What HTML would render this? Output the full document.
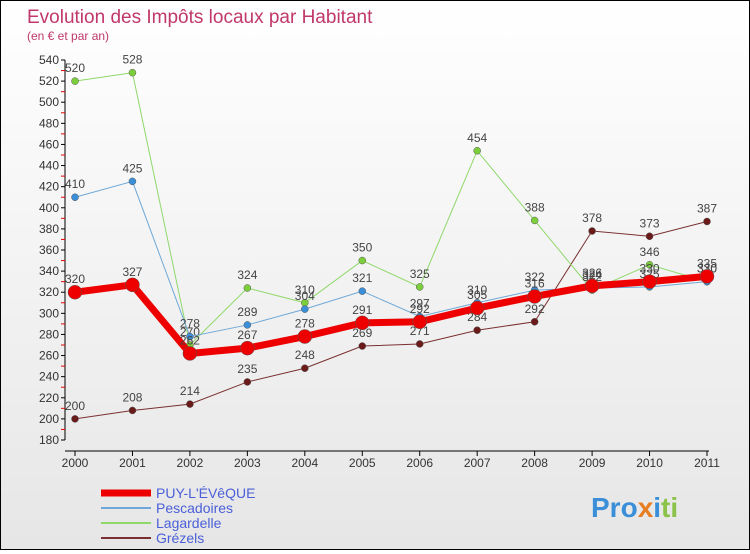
<!DOCTYPE html>
<html><head><meta charset="utf-8"><style>
body{margin:0;}
#c{width:748px;height:548px;border:1px solid #000;background:linear-gradient(#fff,#e6e6e6);position:relative;font-family:"Liberation Sans",sans-serif;}
</style></head><body>
<div id="c">
<svg id="s" width="748" height="548">
<text x="26" y="22" font-size="19" fill="#c0386a">Evolution des Impôts locaux par Habitant</text>
<text x="26" y="39" font-size="12" fill="#c0386a">(en € et par an)</text>
<g id="g"></g>
<text x="590" y="516" font-size="28" font-weight="bold" fill="#f39c12"><tspan fill="#3a8fd8">Pro</tspan><tspan fill="#e67e22">x</tspan><tspan fill="#3a8fd8">i</tspan><tspan fill="#8bc34a">ti</tspan></text>
</svg>
</div>
<script>
const years=["2000","2001","2002","2003","2004","2005","2006","2007","2008","2009","2010","2011"];
const puy=[320,327,262,267,278,291,292,305,316,326,330,335];
const pesc=[410,425,278,289,304,321,297,310,322,324,325,330];
const lag=[520,528,270,324,310,350,325,454,388,322,346,330];
const grez=[200,208,214,235,248,269,271,284,292,378,373,387];
const yTicks=[180,200,220,240,260,280,300,320,340,360,380,400,420,440,460,480,500,520,540];
const names=["PUY-L'ÉVêQUE","Pescadoires","Lagardelle","Grézels"];
const NS="http://www.w3.org/2000/svg";
const g=document.getElementById('g');
const X=i=>74+i*(632/11);
const Y=v=>59+(540-v)*380/360;
function el(t,a,p){const e=document.createElementNS(NS,t);for(const k in a)e.setAttribute(k,a[k]);(p||g).appendChild(e);return e;}
let ax=el('line',{x1:64,y1:Y(540),x2:64,y2:Y(180),stroke:'#000'});


let bx=el('line',{x1:64,y1:450,x2:708,y2:450,stroke:'#000'});


yTicks.forEach(v=>{
 el('line',{x1:60,x2:64,y1:Y(v),y2:Y(v),stroke:'#000'});
 if(v<540)el('line',{x1:60,x2:64,y1:Y(v+10),y2:Y(v+10),stroke:'#e00'});
 const t=el('text',{x:58,y:Y(v)+4,'font-size':12,'text-anchor':'end',fill:'#333'});t.textContent=v;
 
 
});
years.forEach((y,i)=>{
 el('line',{x1:X(i),x2:X(i),y1:450,y2:455,stroke:'#000'});
 const t=el('text',{x:X(i),y:466,'font-size':12,'text-anchor':'middle',fill:'#333'});t.textContent=y;
 
 
});
function series(d,color,w,r,fill,name,labelBelow){
 const p=el('polyline',{points:d.map((v,i)=>X(i)+','+Y(v)).join(' '),fill:'none',stroke:color,'stroke-width':w});
 
 
 d.forEach((v,i)=>{
  const c=el('circle',{cx:X(i),cy:Y(v),r:r,fill:fill,stroke:'#555','stroke-width':0.5});
  
  
  const t=el('text',{x:X(i),y:labelBelow?Y(v)+20:Y(v)-9,'font-size':12,'text-anchor':'middle',fill:'#444'});t.textContent=v;
  
  
 });
}
series(grez,'#7a3030',1,3.5,'#6b1a1a','grezels',false);
series(lag,'#8fd86a',1,3.5,'#7ccf3a','lagardelle',false);
series(pesc,'#6fa8d8',1,3.5,'#3a8fd8','pescadoires',false);
series(puy,'#ee0000',7,7,'#ee0000','puy',false);
const lc=['#ee0000','#6fa8d8','#8fd86a','#7a3030'],lw=[7,2,2,2];
names.forEach((n,i)=>{
 const y=492+i*15;
 const l=el('line',{x1:100,x2:150,y1:y,y2:y,stroke:lc[i],'stroke-width':lw[i]});
 
 
 const t=el('text',{x:155,y:y+5,'font-size':14,fill:'#4a5fd8'});t.textContent=n;
 
 
});
</script>
</body></html>
